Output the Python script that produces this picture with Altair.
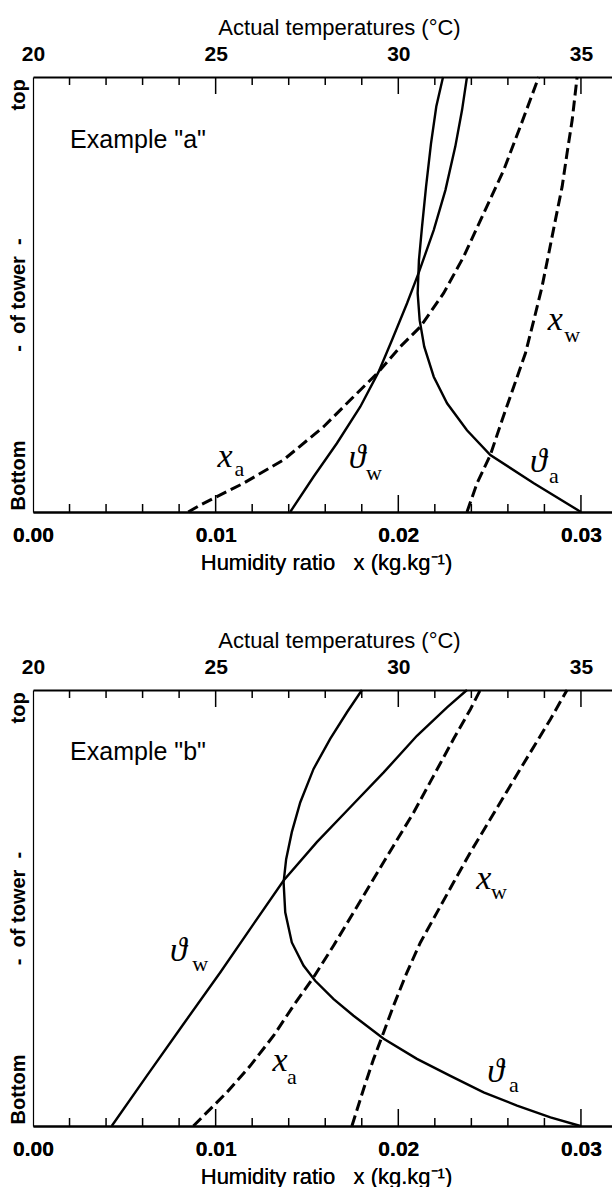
import altair as alt
import pandas as pd

# ---------------- axes / ticks ----------------
H_MAX = 0.0317                 # right end of humidity-ratio axis (kg/kg)
T_MIN, T_MAX = 20.0, 35.85     # temperature axis spanning the same width
BOTTOM_LABELS = [0.0, 0.01, 0.02, 0.03]
BOTTOM_MINOR = [0.002, 0.004, 0.006, 0.008, 0.012, 0.014, 0.016, 0.018,
                0.022, 0.024, 0.026, 0.028]
BOTTOM_MAJOR = [0.01, 0.02, 0.03]
TOP_LABELS = [20, 25, 30, 35]
TOP_MINOR = [21, 22, 23, 24, 26, 27, 28, 29, 31, 32, 33, 34]
TOP_MAJOR = [25, 30, 35]
Y_LABEL_POS = [0.085, 0.5, 0.96]
Y_LABEL_TEXT = ["Bottom", "-\u00a0 of tower \u00a0-", "top"]

# ---------------- Example "a" ----------------
A_THA_H = [0.0300, 0.02742, 0.02504, 0.02376, 0.02267, 0.02194, 0.02142, 0.02117,
           0.02106, 0.02113, 0.02130, 0.02152, 0.02179, 0.02208, 0.02245]
A_THA_V = [0.0, 0.066, 0.131, 0.188, 0.250, 0.311, 0.380, 0.441,
           0.503, 0.579, 0.656, 0.748, 0.847, 0.932, 1.0]
A_THW_H = [0.01408, 0.01536, 0.01664, 0.01792, 0.01892, 0.01965, 0.02048,
           0.02111, 0.02194, 0.02258, 0.02312, 0.02349, 0.02376]
A_THW_V = [0.0, 0.081, 0.158, 0.242, 0.322, 0.395, 0.480,
           0.549, 0.648, 0.740, 0.840, 0.924, 1.0]
A_XA_H = [0.0085, 0.00915, 0.01152, 0.01372, 0.01591, 0.01755, 0.01892, 0.02011,
          0.02121, 0.02248, 0.02358, 0.02468, 0.02577, 0.02668, 0.02769]
A_XA_V = [0.0, 0.016, 0.066, 0.120, 0.196, 0.265, 0.322, 0.380,
          0.426, 0.503, 0.587, 0.687, 0.786, 0.886, 1.0]
A_XW_H = [0.02376, 0.02431, 0.02504, 0.02568, 0.02632, 0.02696, 0.02742,
          0.02787, 0.02824, 0.02860, 0.02897, 0.02924, 0.02952, 0.02979]
A_XW_V = [0.0, 0.066, 0.131, 0.211, 0.288, 0.365, 0.441,
          0.518, 0.595, 0.671, 0.748, 0.825, 0.901, 1.0]
A_LAB_MAIN = ["x", "\u03d1", "\u03d1", "x"]
A_LAB_MAIN_H = [0.01052, 0.01774, 0.02767, 0.02860]
A_LAB_MAIN_V = [0.126, 0.124, 0.116, 0.441]
A_LAB_SUB = ["a", "w", "a", "w"]
A_LAB_SUB_H = [0.01130, 0.01866, 0.02852, 0.02952]
A_LAB_SUB_V = [0.098, 0.090, 0.082, 0.408]
A_EXAMPLE = ['Example "a"', 0.00203, 0.855]

# ---------------- Example "b" ----------------
B_THA_H = [0.01801, 0.01719, 0.01627, 0.01536, 0.01463, 0.01417, 0.01386, 0.01372,
           0.01381, 0.01417, 0.01481, 0.01545, 0.01646, 0.01755, 0.01920, 0.02102,
           0.02285, 0.02467, 0.02650, 0.02833, 0.02997]
B_THA_V = [1.0, 0.949, 0.888, 0.819, 0.742, 0.674, 0.612, 0.559,
           0.490, 0.421, 0.368, 0.333, 0.291, 0.253, 0.200, 0.154,
           0.115, 0.077, 0.047, 0.020, 0.0]
B_THW_H = [0.00431, 0.00623, 0.00824, 0.01025, 0.01207, 0.01372, 0.01554,
           0.01737, 0.01920, 0.02102, 0.02267, 0.02376]
B_THW_V = [0.0, 0.115, 0.234, 0.352, 0.463, 0.563, 0.651,
           0.731, 0.811, 0.895, 0.960, 1.0]
B_XA_H = [0.00878, 0.01061, 0.01189, 0.01317, 0.01426, 0.01536, 0.01646, 0.01755,
          0.01865, 0.01974, 0.02084, 0.02193, 0.02303, 0.02395, 0.02449]
B_XA_V = [0.0, 0.077, 0.138, 0.207, 0.276, 0.341, 0.414, 0.490,
          0.567, 0.643, 0.719, 0.803, 0.888, 0.956, 1.0]
B_XW_H = [0.01746, 0.01810, 0.01865, 0.01920, 0.01974, 0.02047, 0.02121, 0.02212,
          0.02303, 0.02395, 0.02504, 0.02614, 0.02723, 0.02833, 0.02924]
B_XW_V = [0.0, 0.085, 0.154, 0.215, 0.276, 0.352, 0.421, 0.490,
          0.559, 0.628, 0.704, 0.781, 0.857, 0.933, 1.0]
B_LAB_MAIN = ["\u03d1", "x", "\u03d1", "x"]
B_LAB_MAIN_H = [0.00796, 0.01353, 0.02532, 0.02468]
B_LAB_MAIN_V = [0.402, 0.150, 0.123, 0.567]
B_LAB_SUB = ["w", "a", "a", "w"]
B_LAB_SUB_H = [0.00916, 0.01418, 0.02633, 0.02551]
B_LAB_SUB_V = [0.372, 0.112, 0.093, 0.537]
B_EXAMPLE = ['Example "b"', 0.00203, 0.858]

# ---------------- styling ----------------
PLOT_W = 579
SANS = "Liberation Sans"
SERIF = "Liberation Serif"
MINOR_LEN, MAJOR_LEN = 8, 17

Y_LABEL_EXPR = (f"datum.value < 0.3 ? '{Y_LABEL_TEXT[0]}' : "
                f"(datum.value > 0.7 ? '{Y_LABEL_TEXT[2]}' : '{Y_LABEL_TEXT[1]}')")

LEFT_AXIS = alt.Axis(
    orient="left", values=Y_LABEL_POS, labelExpr=Y_LABEL_EXPR, labelAngle=270,
    labelAlign="center", labelBaseline="bottom", ticks=False, tickSize=0,
    grid=False, domainWidth=1.2, domainColor="black", labelPadding=5,
    labelFont=SANS, labelFontSize=20, labelFontWeight="bold", labelColor="black",
    title=None)


def curves_df(items):
    rows = []
    for name, hs, vs in items:
        for i, (h, v) in enumerate(zip(hs, vs)):
            rows.append({"series": name, "h": h, "v": v, "i": i})
    return pd.DataFrame(rows)


def xh(axis=None):
    return alt.X("h:Q", scale=alt.Scale(domain=[0, H_MAX], nice=False, zero=False),
                 axis=axis)


def yv():
    return alt.Y("v:Q", scale=alt.Scale(domain=[0, 1], nice=False, zero=False),
                 axis=LEFT_AXIS)


def panel(solid, dashed, lab_main, lab_sub, example, height):
    bottom_axis = alt.Axis(
        orient="bottom", values=BOTTOM_LABELS, format=".2f", ticks=False, tickSize=0,
        grid=False, domainWidth=2, domainColor="black", labelFlush=False,
        labelPadding=12, labelFont=SANS, labelFontSize=21, labelFontWeight="bold",
        labelColor="black",
        title="Humidity ratio\u00a0\u00a0 x (kg.kg\u207b\u00b9)", titleFont=SANS,
        titleFontSize=22, titleFontWeight="normal", titleColor="black",
        titlePadding=7, titleX=293)
    top_axis = alt.Axis(
        orient="top", values=TOP_LABELS, format="d", ticks=False, tickSize=0,
        grid=False, domainWidth=2, domainColor="black", labelFlush=False,
        labelPadding=13, labelFont=SANS, labelFontSize=21, labelFontWeight="bold",
        labelColor="black",
        title="Actual temperatures (\u00b0C)", titleFont=SANS, titleFontSize=22,
        titleFontWeight="normal", titleColor="black", titlePadding=4, titleX=306)

    sdf = curves_df(solid)
    ddf = curves_df(dashed)
    solid_lines = alt.Chart(sdf).mark_line(color="black", strokeWidth=2.4).encode(
        x=xh(bottom_axis), y=yv(), detail="series:N", order="i:Q")
    dashed_lines = alt.Chart(ddf).mark_line(
        color="black", strokeWidth=3, strokeDash=[11, 5]).encode(
        x=xh(bottom_axis), y=yv(), detail="series:N", order="i:Q")

    tscale = alt.Scale(domain=[T_MIN, T_MAX], nice=False, zero=False)
    top_minor = alt.Chart(pd.DataFrame({"t": TOP_MINOR})).mark_rule(
        color="black", strokeWidth=1.5).encode(
        x=alt.X("t:Q", scale=tscale, axis=top_axis),
        y=alt.value(0), y2=alt.value(MINOR_LEN))
    top_major = alt.Chart(pd.DataFrame({"t": TOP_MAJOR})).mark_rule(
        color="black", strokeWidth=1.5).encode(
        x=alt.X("t:Q", scale=tscale, axis=None),
        y=alt.value(0), y2=alt.value(MAJOR_LEN))
    bot_minor = alt.Chart(pd.DataFrame({"h": BOTTOM_MINOR})).mark_rule(
        color="black", strokeWidth=1.5).encode(
        x=xh(), y=alt.value(height), y2=alt.value(height - MINOR_LEN))
    bot_major = alt.Chart(pd.DataFrame({"h": BOTTOM_MAJOR})).mark_rule(
        color="black", strokeWidth=1.5).encode(
        x=xh(), y=alt.value(height), y2=alt.value(height - MAJOR_LEN))

    mdf = pd.DataFrame({"txt": lab_main[0], "h": lab_main[1], "v": lab_main[2]})
    subdf = pd.DataFrame({"txt": lab_sub[0], "h": lab_sub[1], "v": lab_sub[2]})
    main_txt = alt.Chart(mdf).mark_text(
        font=SERIF, fontSize=34, fontStyle="italic", color="black",
        align="center", baseline="middle").encode(x=xh(), y=yv(), text="txt:N")
    sub_txt = alt.Chart(subdf).mark_text(
        font=SERIF, fontSize=22, color="black",
        align="center", baseline="middle").encode(x=xh(), y=yv(), text="txt:N")

    exdf = pd.DataFrame({"txt": [example[0]], "h": [example[1]], "v": [example[2]]})
    ex_txt = alt.Chart(exdf).mark_text(
        font=SANS, fontSize=25, color="black", align="left",
        baseline="middle").encode(x=xh(), y=yv(), text="txt:N")

    return alt.layer(
        solid_lines, dashed_lines, top_minor, top_major, bot_minor, bot_major,
        main_txt, sub_txt, ex_txt
    ).resolve_scale(x="independent").properties(width=PLOT_W, height=height)


panel_a = panel(
    [("theta_a", A_THA_H, A_THA_V), ("theta_w", A_THW_H, A_THW_V)],
    [("x_a", A_XA_H, A_XA_V), ("x_w", A_XW_H, A_XW_V)],
    (A_LAB_MAIN, A_LAB_MAIN_H, A_LAB_MAIN_V),
    (A_LAB_SUB, A_LAB_SUB_H, A_LAB_SUB_V),
    A_EXAMPLE, 435)
panel_b = panel(
    [("theta_a", B_THA_H, B_THA_V), ("theta_w", B_THW_H, B_THW_V)],
    [("x_a", B_XA_H, B_XA_V), ("x_w", B_XW_H, B_XW_V)],
    (B_LAB_MAIN, B_LAB_MAIN_H, B_LAB_MAIN_V),
    (B_LAB_SUB, B_LAB_SUB_H, B_LAB_SUB_V),
    B_EXAMPLE, 436)

chart = alt.vconcat(panel_a, panel_b, spacing=56).properties(
    padding={"left": 8, "top": 16, "right": 0, "bottom": 0},
    background="white",
).configure_view(strokeWidth=0)

chart.save("out.html", embed_options={"renderer": "svg", "actions": False})
